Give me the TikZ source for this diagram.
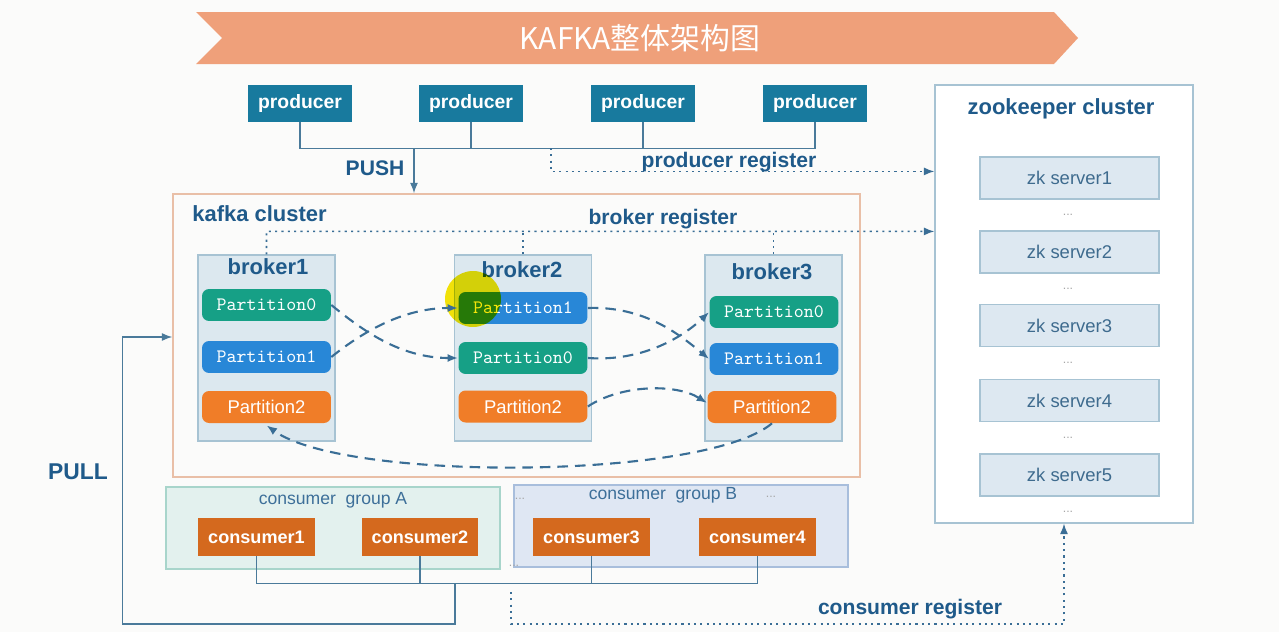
\documentclass[tikz,border=0pt]{standalone}
\usepackage{fontspec}
\setmainfont{Liberation Sans}
\newfontfamily\cjk{Noto Sans CJK SC}
\usetikzlibrary{arrows.meta,calc}
\definecolor{bgwhite}{HTML}{FBFBFA}
\definecolor{bannerorange}{HTML}{EFA07A}
\definecolor{prodblue}{HTML}{187A9E}
\definecolor{labelblue}{HTML}{1F5A8A}
\definecolor{grouptext}{HTML}{3D6F99}
\definecolor{busline}{HTML}{4A7A9A}
\definecolor{regline}{HTML}{3A6E96}
\definecolor{clusterline}{HTML}{E9BFA7}
\definecolor{brokerline}{HTML}{A7C3D3}
\definecolor{brokerfill}{HTML}{DCE8EF}
\definecolor{pteal}{HTML}{16A086}
\definecolor{pblue}{HTML}{2887D7}
\definecolor{porange}{HTML}{F07D28}
\definecolor{consorange}{HTML}{D4691E}
\definecolor{groupafill}{HTML}{E3F1EE}
\definecolor{groupaline}{HTML}{A8D5CB}
\definecolor{groupbfill}{HTML}{DFE7F3}
\definecolor{groupbline}{HTML}{A8BEDC}
\definecolor{zkfill}{HTML}{DDE8F1}
\definecolor{zktext}{HTML}{3E6B8E}
\definecolor{highlight}{HTML}{F5E50A}

\begin{document}
\begin{tikzpicture}[x=0.02cm,y=-0.02cm,>={Latex[length=6pt,width=4.6pt]}]
            \tikzstyle{producer}=[fill=prodblue, text=white, font=\bfseries\fontsize{11}{13}\selectfont, minimum width=2.08cm, minimum height=0.74cm, inner sep=0pt]
            \tikzstyle{cluster}=[draw=clusterline, line width=0.8pt, minimum width=13.74cm, minimum height=5.66cm, inner sep=0pt]
            \tikzstyle{broker}=[draw=brokerline, fill=brokerfill, line width=0.7pt, minimum width=2.74cm, minimum height=3.72cm, inner sep=0pt]
            \tikzstyle{part}=[text=white, rounded corners=4pt, minimum width=2.58cm, minimum height=0.64cm, inner sep=0pt]
            \tikzstyle{pzero}=[part, fill=pteal, font=\ttfamily\fontsize{10.8}{12}\selectfont]
            \tikzstyle{pone}=[part, fill=pblue, font=\ttfamily\fontsize{10.8}{12}\selectfont]
            \tikzstyle{ptwo}=[part, fill=porange, font=\fontsize{10.5}{12}\selectfont]
            \tikzstyle{boxtitle}=[text=labelblue, font=\bfseries\fontsize{12.5}{14}\selectfont, inner sep=0pt]
            \tikzstyle{linklabel}=[text=labelblue, font=\bfseries\fontsize{12}{14}\selectfont, inner sep=0pt]
            \tikzstyle{group}=[line width=0.7pt, minimum width=6.68cm, minimum height=1.64cm, inner sep=0pt]
            \tikzstyle{grouptitle}=[text=grouptext, font=\fontsize{10}{12}\selectfont, inner sep=0pt]
            \tikzstyle{consumer}=[fill=consorange, text=white, font=\bfseries\fontsize{10.3}{12}\selectfont, minimum width=2.34cm, minimum height=0.76cm, inner sep=0pt]
            \tikzstyle{zkbox}=[draw=brokerline, fill=white, line width=0.7pt, minimum width=5.16cm, minimum height=8.76cm, inner sep=0pt]
            \tikzstyle{zkserver}=[draw=brokerline, fill=zkfill, line width=0.7pt, text=zktext, font=\fontsize{10.5}{12}\selectfont, minimum width=3.58cm, minimum height=0.84cm, inner sep=0pt]
            \tikzstyle{dots}=[text=gray!70, font=\fontsize{7}{8}\selectfont, inner sep=0pt]
            \tikzstyle{bus}=[draw=busline, line width=0.85pt]
            \tikzstyle{reg}=[draw=regline, line width=0.9pt, dash pattern=on 1.2pt off 2.4pt]
            \tikzstyle{repl}=[draw=regline, line width=1.2pt, dash pattern=on 6pt off 4pt]
            \fill[bgwhite] (0,0) rectangle (1279,632);
            \fill[bannerorange] (196,12) -- (1054,12) -- (1078,38) -- (1054,64) -- (196,64) -- (222,38) -- cycle;
            \node[text=white, font=\cjk\fontsize{17}{20}\selectfont] (banner) at (640,38) {KAFKA整体架构图};
            \node[producer] (p1) at (300,103.5) {producer};
            \node[producer] (p2) at (471,103.5) {producer};
            \node[producer] (p3) at (643,103.5) {producer};
            \node[producer] (p4) at (815,103.5) {producer};
            \node[cluster] (kafka) at (516.5,335.5) {};
            \node[boxtitle, anchor=west] (kafkatitle) at (192,214) {kafka cluster};
            \node[broker] (b1) at (266.5,348) {};
            \node[broker] (b2) at (523,348) {};
            \node[broker] (b3) at (773.5,348) {};
            \node[boxtitle] (b1title) at (268,266.5) {broker1};
            \node[boxtitle] (b2title) at (522,270) {broker2};
            \node[boxtitle] (b3title) at (772,272) {broker3};
            \node[pzero] (b1p0) at (266.5,305) {Partition0};
            \node[pone] (b1p1) at (266.5,357) {Partition1};
            \node[ptwo] (b1p2) at (266.5,407) {Partition2};
            \node[pone] (b2p1) at (523,308) {Partition1};
            \node[pzero] (b2p0) at (523,358) {Partition0};
            \node[ptwo] (b2p2) at (523,406.5) {Partition2};
            \node[pzero] (b3p0) at (774,312) {Partition0};
            \node[pone] (b3p1) at (774,359) {Partition1};
            \node[ptwo] (b3p2) at (772,407) {Partition2};
            \fill[highlight, blend mode=multiply] (473,299) circle (0.56cm);
            \node[zkbox] (zk) at (1064,304) {};
            \node[boxtitle] (zktitle) at (1061,109) {zookeeper cluster};
            \node[zkserver] (zk1) at (1069.5,178) {zk server1};
            \node[zkserver] (zk2) at (1069.5,252) {zk server2};
            \node[zkserver] (zk3) at (1069.5,325.5) {zk server3};
            \node[zkserver] (zk4) at (1069.5,400.5) {zk server4};
            \node[zkserver] (zk5) at (1069.5,475) {zk server5};
            \node[dots] (zkd1) at (1068,215) {...};
            \node[dots] (zkd2) at (1068,289) {...};
            \node[dots] (zkd3) at (1068,363) {...};
            \node[dots] (zkd4) at (1068,438) {...};
            \node[dots] (zkd5) at (1068,512) {...};
            \node[group, draw=groupaline, fill=groupafill] (ga) at (333,528) {};
            \node[group, draw=groupbline, fill=groupbfill] (gb) at (681,526) {};
            \node[grouptitle] (gatitle) at (333,500) {consumer\ \ group A};
            \node[grouptitle] (gbtitle) at (663,495) {consumer\ \ group B};
            \node[dots] (gbd1) at (520,499) {...};
            \node[dots] (gbd2) at (771,497) {...};
            \node[dots] (gbd3) at (514,566) {...};
            \node[consumer] (c1) at (256.5,537) {consumer1};
            \node[consumer] (c2) at (420,537) {consumer2};
            \node[consumer] (c3) at (591.5,537) {consumer3};
            \node[consumer] (c4) at (757.5,537) {consumer4};
            \coordinate (push) at (414,148);
            \coordinate (preg) at (551,148);
            \coordinate (pull) at (455,583);
            \coordinate (creg) at (511,592);
            \draw[bus] (p1.south) -- ++(0,26) -| (p4.south);
            \draw[bus] (p2.south) -- ++(0,26);
            \draw[bus] (p3.south) -- ++(0,26);
            \draw[bus, ->] (push) -- (push |- kafka.north);
            \node[linklabel] (pushlabel) at (375,168) {PUSH};
            \draw[reg, ->] (preg) |- ($(zk.north west)+(0,87)$);
            \node[linklabel] (preglabel) at (729,162) {producer register};
            \draw[reg, ->] (b1.north) -- ++(0,-23) -- ($(zk.north west)+(0,147)$);
            \draw[reg] (b2.north) -- ++(0,-23);
            \draw[reg] (b3.north) -- ++(0,-23);
            \node[linklabel] (breglabel) at (663,219) {broker register};
            \draw[repl, ->] (b1p0.east) .. controls (362,330) and (400,358) .. (b2p0.west);
            \draw[repl, ->] (b1p1.east) .. controls (365,330) and (405,308) .. (b2p1.west);
            \draw[repl, ->] (b2p1.east) .. controls (645,306) and (680,335) .. (b3p1.west);
            \draw[repl, ->] (b2p0.east) .. controls (645,362) and (685,335) .. (b3p0.west);
            \draw[repl, ->] (b2p2.east) .. controls (620,385) and (675,383) .. ($(b3p2.west)+(0,-4)$);
            \draw[repl, ->] (b3p2.south) .. controls (705,480) and (345,482) .. ($(b1p2.south)+(0,2)$);
            \draw[bus] (c1.south) -- ++(0,27) -| (c4.south);
            \draw[bus] (c2.south) -- ++(0,27);
            \draw[bus] (c3.south) -- ++(0,27);
            \draw[bus, ->] (pull) -- ++(0,41) -| ($(kafka.west)+(-50,1.5)$) -- ($(kafka.west)+(0,1.5)$);
            \node[linklabel, font=\bfseries\fontsize{13}{15}\selectfont] (pulllabel) at (78,472) {PULL};
            \draw[reg, ->] (creg) -- ++(0,32) -| (zk.south);
            \node[linklabel] (creglabel) at (910,609) {consumer register};
        \end{tikzpicture}
\end{document}
